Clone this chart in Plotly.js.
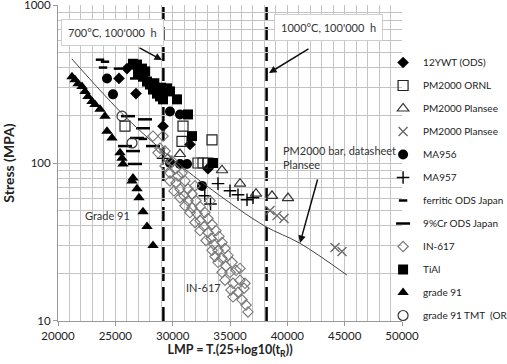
<!DOCTYPE html>
<html>
<head>
<meta charset="utf-8">
<script src="https://cdn.plot.ly/plotly-3.0.1.min.js"></script>
<style>html,body{margin:0;padding:0;background:#fff;}#chart{width:507px;height:364px;}</style>
</head>
<body>
<div id="chart"></div>
<script>
// ---- data ----
const ywt12_x = [25320, 26017, 26802, 29157, 31511, 33081];
const ywt12_y = [343, 396, 275, 171, 131, 92];

const pm2000Ornl_x = [25843, 30901, 30813, 33430, 32209, 32645, 33081];
const pm2000Ornl_y = [171, 171, 137, 140, 100, 100, 100];

const pm2000PlanseeTri_x = [30639, 34302, 35872, 37267, 38662, 40058];
const pm2000PlanseeTri_y = [114, 90, 74, 64, 62, 60];

const pm2000PlanseeX_x = [38489, 39099, 39710, 44157, 44768];
const pm2000PlanseeX_y = [50, 46.4, 44.5, 29.2, 27.5];

const ma956_x = [24273, 24796, 29767, 30639, 29767, 30639, 31250, 32558];
const ma956_y = [343, 272, 212, 203, 100, 98.6, 98.6, 71.6];

const ma957_x = [29157, 33953, 35000, 35698, 36483, 37006, 32800, 33300];
const ma957_y = [107, 74, 66.7, 63, 58.5, 60.2, 62, 55];

const ferritic_x = [23663, 24099, 23925, 25233, 27413];
const ferritic_y = [451, 438, 402, 396, 142];

const cr9_x = [26104, 27587, 27413, 26890, 25843, 28285, 26541, 26715, 26890];
const cr9_y = [198, 189, 166, 144, 128, 128, 119, 98.6, 343];

const in617_x = [28285, 29157, 28895, 28721, 29331, 29593, 29942, 29331, 30203, 29767, 30465, 30814,
                 30291, 31076, 30639, 31337, 30988, 31686, 31337, 32035, 31686, 32384, 32122, 32820,
                 32384, 33082, 32733, 33430, 33082, 33779, 33343, 34041, 33605, 34302, 33954, 34564,
                 33692, 34302, 34826, 33954, 34651, 35175, 34302, 35000, 35523, 34564, 35262, 35872,
                 35087, 35698, 36221, 35262, 36047, 36395, 36570, 36308, 35872, 33430, 32907, 32384,
                 31948, 31512, 31076, 30639, 30116, 29767, 31948, 33256];
const in617_y = [148, 148, 124, 116, 119, 106, 103, 95.8, 91.6, 86.4, 82.8, 86.4,
                 74.8, 77, 68.5, 68.5, 62, 63.8, 57.6, 57.6, 52.1, 52.9, 47.8, 48.5,
                 43.2, 44.5, 39.6, 40.8, 36.3, 37.3, 33.3, 34.3, 30.5, 31.4, 28.0, 28.8,
                 25.6, 24.9, 26.0, 23.5, 22.2, 23.5, 20.3, 20.3, 20.9, 18.1, 17.3, 18.1,
                 15.7, 15.2, 16.1, 14.2, 13.6, 12.6, 11.4, 17.3, 21.5, 28.0, 32.3, 37.3,
                 42.0, 48.5, 53.6, 60.2, 66.6, 77.0, 71.6, 57.6];

const tial_x = [26541, 26890, 26977, 27326, 27413, 27762, 28023, 28285, 28634, 28895, 29157,
                29506, 29767, 30378, 31337, 31686, 33517, 27600, 28400, 29000];
const tial_y = [425, 420, 368, 396, 352, 328, 314, 292, 275, 264, 253,
                297, 284, 253, 203, 148, 100, 380, 320, 300];

const grade91_x = [21221, 21483, 21744, 22093, 22355, 22616, 22965, 23227, 23663, 24099, 24273,
                   24709, 25407, 25581, 25669, 26541, 26454, 26890, 27064, 27413, 27762, 28285];
const grade91_y = [352, 337, 318, 305, 284, 264, 245, 235, 219, 198, 159,
                   144, 116, 107, 98.6, 80.5, 77, 68.6, 60.2, 49.2, 39.6, 30];

const grade91Tmt_x = [25581, 26454];
const grade91Tmt_y = [198, 134];

// PM2000 bar datasheet curve (Plansee)
const curve_x = [21200, 26000, 30200, 33500, 38000, 41100, 45200];
const curve_y = [457, 192, 103, 67, 40, 31, 19.5];

// 100'000 h reference lines (700 °C and 1000 °C)
const refLines_x = [29190, 38190];

// y tick labels
const yTickVals = [10, 100, 1000];
const yTickText = ['10', '100', '1000'];

// ---- traces ----
function sc(name, x, y, marker) {
  return {type: 'scatter', mode: 'markers', name: name, x: x, y: y, marker: marker, legendgroup: name};
}
const traces = [
  sc('12YWT (ODS)', ywt12_x, ywt12_y, {symbol: 'diamond', color: '#000', size: 9}),
  sc('PM2000 ORNL', pm2000Ornl_x, pm2000Ornl_y, {symbol: 'square-open', color: '#222', size: 10, line: {width: 1.2}}),
  sc('PM2000 Plansee', pm2000PlanseeTri_x, pm2000PlanseeTri_y, {symbol: 'triangle-up-open', color: '#333', size: 10, line: {width: 1.2}}),
  sc('PM2000 Plansee ', pm2000PlanseeX_x, pm2000PlanseeX_y, {symbol: 'x-thin-open', color: '#666', size: 9, line: {width: 1.3, color: '#666'}}),
  sc('MA956', ma956_x, ma956_y, {symbol: 'circle', color: '#000', size: 10}),
  sc('MA957', ma957_x, ma957_y, {symbol: 'cross-thin-open', color: '#000', size: 9, line: {width: 1.4, color: '#000'}}),
  sc('ferritic ODS Japan', ferritic_x, ferritic_y, {symbol: 'line-ew-open', color: '#000', size: 6, line: {width: 2.5, color: '#000'}}),
  sc('9%Cr ODS Japan', cr9_x, cr9_y, {symbol: 'line-ew-open', color: '#000', size: 10, line: {width: 2.5, color: '#000'}}),
  sc('IN-617', in617_x, in617_y, {symbol: 'diamond-open', color: '#777', size: 8, line: {width: 1.1, color: '#777'}}),
  sc('TiAl', tial_x, tial_y, {symbol: 'square', color: '#000', size: 10}),
  sc('grade 91', grade91_x, grade91_y, {symbol: 'triangle-up', color: '#000', size: 10}),
  sc('grade 91 TMT  (ORNL)', grade91Tmt_x, grade91Tmt_y, {symbol: 'circle-open', color: '#333', size: 10, line: {width: 1.2}}),
  {type: 'scatter', mode: 'lines', x: curve_x, y: curve_y, line: {color: '#444', width: 1, shape: 'spline'}, showlegend: false, hoverinfo: 'skip'}
];

const shapes = refLines_x.map(v => ({
  type: 'line', xref: 'x', yref: 'paper', x0: v, x1: v, y0: 0, y1: 1, layer: 'below',
  line: {color: '#000', width: 2.5, dash: '14px,6px'}
}));

const T = 5, B = 321;
const annFont = {family: 'Lato, "Open Sans", sans-serif', size: 11, color: '#333'};
function px2x(p) { return (p - 58) / 344; }
function px2y(p) { return (B - p) / (B - T); }
const annotations = [
  {xref: 'paper', yref: 'paper', x: px2x(112), y: px2y(32), xanchor: 'center', yanchor: 'middle',
   text: "700°C, 100'000  h", showarrow: false,
   font: annFont, bgcolor: '#fff', bordercolor: '#cfcfcf', borderwidth: 1, borderpad: 6},
  {xref: 'paper', yref: 'paper', x: px2x(162), y: px2y(60), ax: -24, ay: -13, text: '',
   showarrow: true, arrowhead: 2, arrowsize: 1, arrowwidth: 1.5, arrowcolor: '#111'},
  {xref: 'paper', yref: 'paper', x: px2x(328), y: px2y(27), xanchor: 'center', yanchor: 'middle',
   text: "1000°C, 100'000  h", showarrow: false,
   font: annFont, bgcolor: '#fff', bordercolor: '#cfcfcf', borderwidth: 1, borderpad: 6},
  {xref: 'paper', yref: 'paper', x: px2x(269), y: px2y(73), ax: 41, ay: -25, text: '',
   showarrow: true, arrowhead: 2, arrowsize: 1, arrowwidth: 1.5, arrowcolor: '#111'},
  {xref: 'paper', yref: 'paper', x: px2x(281), y: px2y(157), xanchor: 'left', yanchor: 'middle', align: 'left',
   text: 'PM2000 bar, datasheet<br>Plansee', showarrow: false, font: annFont},
  {xref: 'paper', yref: 'paper', x: px2x(300), y: px2y(243), ax: 18, ay: -65, text: '',
   showarrow: true, arrowhead: 2, arrowsize: 1, arrowwidth: 1.5, arrowcolor: '#111'},
  {xref: 'paper', yref: 'paper', x: px2x(107), y: px2y(215), xanchor: 'center', yanchor: 'middle',
   text: 'Grade 91', showarrow: false, font: annFont},
  {xref: 'paper', yref: 'paper', x: px2x(203), y: px2y(287), xanchor: 'center', yanchor: 'middle',
   text: 'IN-617', showarrow: false, font: annFont}
];

const layout = {
  width: 507, height: 364,
  margin: {l: 58, r: 105, t: T, b: 364 - B, autoexpand: false},
  paper_bgcolor: '#fff', plot_bgcolor: '#fff',
  font: {family: 'Lato, "Open Sans", sans-serif', size: 11, color: '#222'},
  showlegend: true,
  legend: {x: 0.945, xanchor: 'left', y: px2y(48), yanchor: 'top', bgcolor: 'rgba(0,0,0,0)',
           font: {size: 10, family: 'Lato, sans-serif', color: '#222'}, tracegroupgap: 4, itemwidth: 30},
  xaxis: {
    type: 'linear', range: [20000, 50000], dtick: 5000, tick0: 20000, tickformat: 'd',
    showgrid: true, gridcolor: '#c4c4c4', gridwidth: 1,
    minor: {dtick: 1000, showgrid: true, gridcolor: '#c4c4c4', gridwidth: 1},
    ticks: 'outside', ticklen: 4, tickcolor: '#999',
    showline: true, linecolor: '#999', mirror: false, zeroline: false,
    tickfont: {size: 11.5, color: '#222'},
    title: {text: '<b>LMP = T.(25+log10(t<sub>R</sub>))</b>', font: {size: 12.5, color: '#222'}, standoff: 4}
  },
  yaxis: {
    type: 'log', range: [0.9995, 3.0005], tickvals: yTickVals, ticktext: yTickText,
    ticklabeloverflow: 'allow',
    showgrid: true, gridcolor: '#c4c4c4', gridwidth: 1,
    minor: {dtick: 'D1', showgrid: true, gridcolor: '#c4c4c4', gridwidth: 1},
    ticks: 'outside', ticklen: 4, tickcolor: '#999',
    showline: true, linecolor: '#999', zeroline: false,
    tickfont: {size: 11.5, color: '#222'},
    title: {text: '<b>Stress (MPA)</b>', font: {size: 14, color: '#222'}, standoff: 8}
  },
  shapes: shapes,
  annotations: annotations
};

Plotly.newPlot('chart', traces, layout, {displayModeBar: false, staticPlot: true});
</script>
</body>
</html>
